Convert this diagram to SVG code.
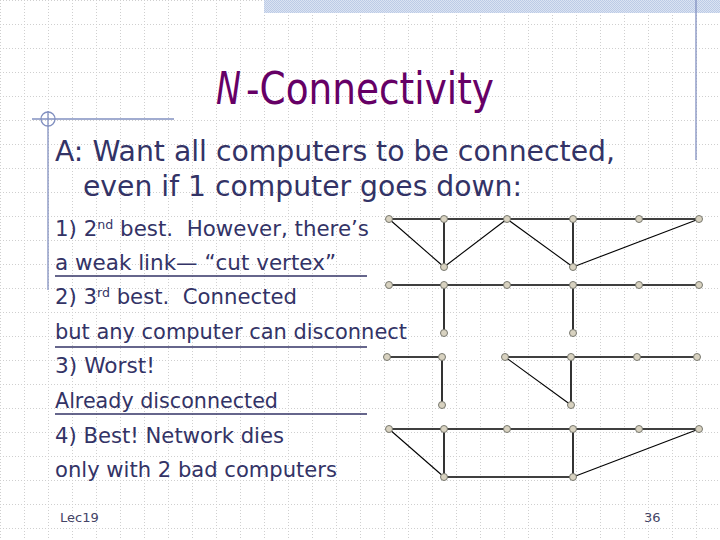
<svg xmlns="http://www.w3.org/2000/svg" width="720" height="540" viewBox="0 0 720 540">
<defs>
<pattern id="grid" x="0" y="0" width="24" height="24" patternUnits="userSpaceOnUse">
<path d="M0 0.5H24M0.5 0V24" stroke="#cfcfcf" stroke-width="1" stroke-dasharray="1,2" fill="none"/>
</pattern>
<pattern id="band" x="0" y="0" width="2" height="2" patternUnits="userSpaceOnUse">
<rect width="2" height="2" fill="#dbe3f2"/>
<rect width="1" height="1" fill="#bccbe6"/>
<rect x="1" y="1" width="1" height="1" fill="#bccbe6"/>
</pattern>
<style>
.body{font-family:"DejaVu Sans","Liberation Sans",sans-serif;fill:#333366}
.edge{stroke:#000;stroke-width:1.6;fill:none}
.diag{stroke:#000;stroke-width:1.1;fill:none}
.node{fill:#d8d2c0;stroke:#77776e;stroke-width:1}
.rule{stroke:#333366;stroke-width:1.3}
.deco{stroke:#8290c0;stroke-width:1.3;fill:none}
.title{font-family:"DejaVu Sans",sans-serif;font-size:44px;fill:#660066}
</style>
</defs>
<rect width="720" height="540" fill="#fff"/>
<rect width="720" height="540" fill="url(#grid)"/>
<rect x="264" y="0" width="456" height="13" fill="url(#band)"/>
<line class="deco" x1="696" y1="0" x2="696" y2="160"/>
<g id="decor-left">
<line class="deco" x1="32" y1="119" x2="174" y2="119"/>
<circle class="deco" cx="48" cy="119" r="7"/>
<line class="deco" x1="48" y1="111" x2="48" y2="290"/>
</g>
<g id="title">
<text class="title" x="216" y="104" font-style="italic" textLength="25" lengthAdjust="spacingAndGlyphs">N</text>
<text class="title" x="246" y="104" textLength="248" lengthAdjust="spacingAndGlyphs">-Connectivity</text>
</g>
<g class="body">
<text x="55" y="161" font-size="28" textLength="560" lengthAdjust="spacingAndGlyphs">A: Want all computers to be connected,</text>
<text x="83" y="196" font-size="28" textLength="439" lengthAdjust="spacingAndGlyphs">even if 1 computer goes down:</text>
<text x="55" y="236" font-size="22" textLength="314" lengthAdjust="spacingAndGlyphs">1) 2<tspan font-size="13" dy="-7">nd</tspan><tspan dy="7"> best.&#160; However, there’s</tspan></text>
<text x="55" y="270" font-size="22" textLength="281" lengthAdjust="spacingAndGlyphs">a weak link— “cut vertex”</text>
<text x="55" y="304" font-size="22" textLength="242" lengthAdjust="spacingAndGlyphs">2) 3<tspan font-size="13" dy="-7">rd</tspan><tspan dy="7"> best.&#160; Connected</tspan></text>
<text x="55" y="339" font-size="22" textLength="352" lengthAdjust="spacingAndGlyphs">but any computer can disconnect</text>
<text x="55" y="373" font-size="22" textLength="100" lengthAdjust="spacingAndGlyphs">3) Worst!</text>
<text x="55" y="408" font-size="22" textLength="223" lengthAdjust="spacingAndGlyphs">Already disconnected</text>
<text x="55" y="443" font-size="22" textLength="229" lengthAdjust="spacingAndGlyphs">4) Best! Network dies</text>
<text x="55" y="477" font-size="22" textLength="282" lengthAdjust="spacingAndGlyphs">only with 2 bad computers</text>
<line class="rule" x1="55" y1="276" x2="367" y2="276"/>
<line class="rule" x1="55" y1="347" x2="367" y2="347"/>
<line class="rule" x1="55" y1="414" x2="367" y2="414"/>
</g>
<text x="60" y="522" font-family="DejaVu Sans,sans-serif" font-size="13" fill="#444466">Lec19</text>
<text x="644" y="522" font-family="DejaVu Sans,sans-serif" font-size="13" fill="#444466">36</text>
<g id="connectors">
<line class="edge" x1="389" y1="219" x2="699" y2="219"/>
<line class="diag" x1="389" y1="219" x2="444" y2="267"/>
<line class="edge" x1="444" y1="219" x2="444" y2="267"/>
<line class="diag" x1="444" y1="267" x2="507" y2="219"/>
<line class="diag" x1="507" y1="219" x2="573" y2="267"/>
<line class="edge" x1="573" y1="219" x2="573" y2="267"/>
<line class="diag" x1="573" y1="267" x2="699" y2="219"/>
<line class="edge" x1="389" y1="285" x2="699" y2="285"/>
<line class="edge" x1="444" y1="285" x2="444" y2="333"/>
<line class="edge" x1="573" y1="285" x2="573" y2="333"/>
<line class="edge" x1="387" y1="357" x2="442" y2="357"/>
<line class="edge" x1="442" y1="357" x2="442" y2="405"/>
<line class="edge" x1="505" y1="357" x2="697" y2="357"/>
<line class="diag" x1="505" y1="357" x2="571" y2="405"/>
<line class="edge" x1="571" y1="357" x2="571" y2="405"/>
<line class="edge" x1="389" y1="429" x2="699" y2="429"/>
<line class="diag" x1="389" y1="429" x2="444" y2="477"/>
<line class="edge" x1="444" y1="429" x2="444" y2="477"/>
<line class="edge" x1="444" y1="477" x2="573" y2="477"/>
<line class="edge" x1="573" y1="429" x2="573" y2="477"/>
<line class="diag" x1="573" y1="477" x2="699" y2="429"/>
</g>
<g id="net1">
<circle class="node" cx="389" cy="219" r="3.5"/><circle class="node" cx="444" cy="219" r="3.5"/><circle class="node" cx="507" cy="219" r="3.5"/><circle class="node" cx="573" cy="219" r="3.5"/><circle class="node" cx="639" cy="219" r="3.5"/><circle class="node" cx="699" cy="219" r="3.5"/>
<circle class="node" cx="444" cy="267" r="3.5"/><circle class="node" cx="573" cy="267" r="3.5"/>
</g>
<g id="net2">
<circle class="node" cx="389" cy="285" r="3.5"/><circle class="node" cx="444" cy="285" r="3.5"/><circle class="node" cx="507" cy="285" r="3.5"/><circle class="node" cx="573" cy="285" r="3.5"/><circle class="node" cx="639" cy="285" r="3.5"/><circle class="node" cx="699" cy="285" r="3.5"/>
<circle class="node" cx="444" cy="333" r="3.5"/><circle class="node" cx="573" cy="333" r="3.5"/>
</g>
<g id="net3">
<circle class="node" cx="387" cy="357" r="3.5"/><circle class="node" cx="442" cy="357" r="3.5"/><circle class="node" cx="505" cy="357" r="3.5"/><circle class="node" cx="571" cy="357" r="3.5"/><circle class="node" cx="637" cy="357" r="3.5"/><circle class="node" cx="697" cy="357" r="3.5"/>
<circle class="node" cx="442" cy="405" r="3.5"/><circle class="node" cx="571" cy="405" r="3.5"/>
</g>
<g id="net4">
<circle class="node" cx="389" cy="429" r="3.5"/><circle class="node" cx="444" cy="429" r="3.5"/><circle class="node" cx="507" cy="429" r="3.5"/><circle class="node" cx="573" cy="429" r="3.5"/><circle class="node" cx="639" cy="429" r="3.5"/><circle class="node" cx="699" cy="429" r="3.5"/>
<circle class="node" cx="444" cy="477" r="3.5"/><circle class="node" cx="573" cy="477" r="3.5"/>
</g>
</svg>
